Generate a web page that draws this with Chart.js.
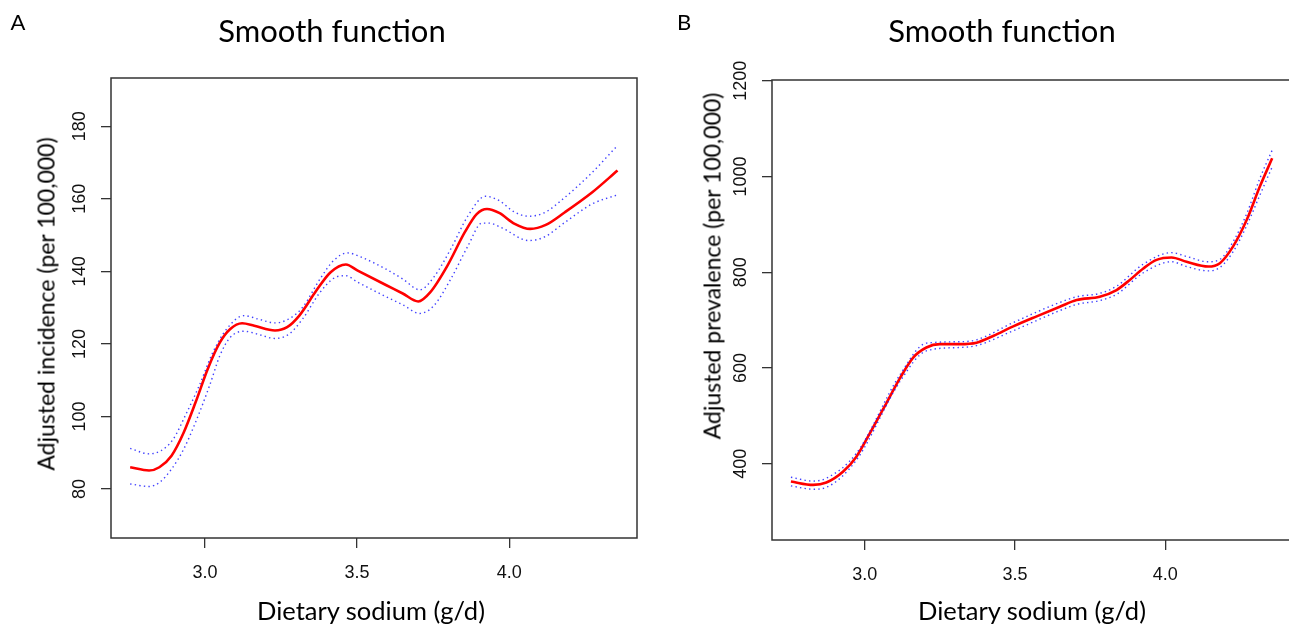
<!DOCTYPE html>
<html><head><meta charset="utf-8">
<script src="https://cdn.jsdelivr.net/npm/chart.js@4.4.1/dist/chart.umd.min.js"></script>
<style>
html,body{margin:0;padding:0;background:#fff;overflow:hidden;width:1289px;height:627px;position:relative;}
.wrap{position:absolute;top:0;height:627px;}
.t{position:absolute;white-space:nowrap;font-family:Lato,sans-serif;color:#000;transform:translate(-50%,-50%);line-height:1;}
.rot{transform:translate(-50%,-50%) rotate(-90deg);}
</style></head><body>
<div class="wrap" style="left:0;width:660px"><canvas id="cA"></canvas></div>
<div class="wrap" style="left:660px;width:650px"><canvas id="cB"></canvas></div>
<div class="t" style="left:18px;top:22px;font-size:22px">A</div>
<div class="t" style="left:684px;top:22px;font-size:22px">B</div>
<div class="t" style="left:332px;top:30px;font-size:31px">Smooth function</div>
<div class="t" style="left:1002px;top:30px;font-size:31px">Smooth function</div>
<div class="t" style="left:371px;top:611px;font-size:25.5px">Dietary sodium (g/d)</div>
<div class="t" style="left:1032px;top:611px;font-size:25.5px">Dietary sodium (g/d)</div>
<div class="t rot" style="left:46px;top:304px;font-size:23px">Adjusted incidence (per 100,000)</div>
<div class="t rot" style="left:712px;top:266px;font-size:23px">Adjusted prevalence (per 100,000)</div>
<script>
// ---- data ----
const xTicks = [3.0, 3.5, 4.0];
const yTicksA = [80, 100, 120, 140, 160, 180];
const yTicksB = [400, 600, 800, 1000, 1200];

// Panel A: incidence
const xA   = [2.754,2.816,2.850,2.890,2.930,2.969,3.009,3.049,3.083,3.122,3.162,3.230,3.270,3.310,3.366,3.412,3.463,3.502,3.593,3.650,3.701,3.740,3.797,3.854,3.893,3.927,3.967,4.018,4.069,4.120,4.183,4.273,4.356];
const fitA = [86.0,85.1,86.0,89.2,95.6,103.9,113.1,120.4,124.1,125.7,125.0,123.7,124.6,127.8,134.7,139.7,141.9,140.2,136.3,133.9,131.7,134.2,141.6,150.8,155.8,157.2,156.1,153.1,151.7,152.8,156.3,161.8,167.8];
const xAUp = [2.754,2.816,2.856,2.896,2.935,2.981,3.026,3.071,3.128,3.173,3.230,3.276,3.321,3.378,3.423,3.468,3.514,3.593,3.650,3.706,3.752,3.808,3.865,3.922,3.967,4.018,4.063,4.114,4.183,4.273,4.356];
const upA  = [91.2,89.7,90.6,93.8,100.2,108.5,117.7,124.1,127.8,126.9,125.8,126.9,130.1,137.9,143.0,145.1,143.9,140.7,137.9,134.9,138.4,146.2,155.4,160.7,159.5,156.3,155.2,156.1,160.4,167.3,174.7];
const xALo = [2.754,2.816,2.850,2.890,2.930,2.969,3.015,3.049,3.083,3.128,3.173,3.230,3.276,3.321,3.378,3.423,3.463,3.502,3.593,3.650,3.706,3.752,3.808,3.865,3.910,3.933,3.978,4.063,4.114,4.183,4.273,4.356];
const loA  = [81.4,80.7,81.8,85.5,91.0,98.4,108.5,116.8,121.8,123.5,122.7,121.5,122.7,126.9,134.2,138.1,138.8,137.0,133.1,130.8,128.4,130.5,137.9,147.1,153.3,153.3,151.9,148.5,149.4,153.5,158.6,161.1];

// Panel B: prevalence
const xB   = [2.754,2.828,2.872,2.928,2.972,3.017,3.072,3.117,3.161,3.205,3.250,3.316,3.372,3.427,3.494,3.572,3.649,3.705,3.782,3.838,3.882,3.927,3.971,4.021,4.071,4.143,4.182,4.226,4.271,4.315,4.356];
const fitB = [363,356,361,384,415,464,527,579,622,643,650,650,653,667,687,708,728,742,749,763,784,808,826,831,822,812,819,854,909,979,1038];
const xBci = [2.754,2.828,2.872,2.972,3.117,3.205,3.316,3.372,3.494,3.649,3.705,3.782,3.838,3.927,4.021,4.071,4.143,4.182,4.226,4.271,4.315,4.356];
const upB  = [372,364,370,422,586,652,655,659,695,737,749,756,771,817,841,833,822,827,864,922,996,1055];
const loB  = [354,347,351,408,572,636,643,647,678,720,733,741,754,799,822,812,803,810,843,897,961,1020];

const pts = (xs, ys) => xs.map((x, i) => ({x: x, y: ys[i]}));

const framePlugin = {
  id: 'frame',
  afterDraw(chart) {
    const {ctx, chartArea: a} = chart;
    const ys = chart.scales.y;
    ctx.save();
    ctx.strokeStyle = '#333';
    ctx.lineWidth = 1.5;
    ctx.strokeRect(a.left, a.top, a.right - a.left, a.bottom - a.top);
    ctx.fillStyle = '#111';
    ctx.font = '18px "Liberation Sans", Arial, sans-serif';
    ctx.textAlign = 'center';
    ctx.textBaseline = 'middle';
    ys.ticks.forEach(t => {
      const y = ys.getPixelForValue(t.value);
      ctx.save();
      ctx.translate(a.left - 31, y);
      ctx.rotate(-Math.PI / 2);
      ctx.fillText(String(t.value), 0, 0);
      ctx.restore();
    });
    ctx.restore();
  }
};

function makePanel(id, o) {
  const el = document.getElementById(id);
  const W = el.parentElement.clientWidth, H = 627;
  el.width = W; el.height = H;
  el.style.width = W + 'px'; el.style.height = H + 'px';
  return new Chart(el, {
    type: 'line',
    data: {
      datasets: [
        {data: pts(o.xUp, o.up), borderColor: 'rgba(30,30,255,0.85)', borderWidth: 1.4, borderDash: [1.4, 3.2], pointRadius: 0, cubicInterpolationMode: 'monotone', fill: false},
        {data: pts(o.xLo, o.lo), borderColor: 'rgba(30,30,255,0.85)', borderWidth: 1.4, borderDash: [1.4, 3.2], pointRadius: 0, cubicInterpolationMode: 'monotone', fill: false},
        {data: pts(o.x, o.fit), borderColor: '#ff0000', borderWidth: 2.6, pointRadius: 0, cubicInterpolationMode: 'monotone', fill: false}
      ]
    },
    options: {
      responsive: false, animation: false, events: [],
      layout: {padding: {top: o.top, right: W - o.right, bottom: 0, left: 0}},
      plugins: {legend: {display: false}, tooltip: {enabled: false}, title: {display: false}},
      scales: {
        x: {
          type: 'linear', min: 2.691, max: 4.42,
          afterBuildTicks: s => { s.ticks = xTicks.map(v => ({value: v})); },
          afterFit: s => { s.height = H - o.bottom; },
          grid: {drawOnChartArea: false, drawTicks: true, tickLength: 10, color: '#333', lineWidth: 1.3},
          border: {display: false},
          ticks: {padding: 14, color: '#111', font: {family: '"Liberation Sans", Arial, sans-serif', size: 18},
                  callback: v => v.toFixed(1), maxRotation: 0, autoSkip: false}
        },
        y: {
          type: 'linear', min: o.ymin, max: o.ymax,
          afterBuildTicks: s => { s.ticks = o.yTicks.map(v => ({value: v})); },
          afterFit: s => { s.width = o.left; },
          grid: {drawOnChartArea: false, drawTicks: true, tickLength: 10, color: '#333', lineWidth: 1.3},
          border: {display: false},
          ticks: {display: false}
        }
      }
    },
    plugins: [framePlugin]
  });
}

makePanel('cA', {x: xA, fit: fitA, xUp: xAUp, up: upA, xLo: xALo, lo: loA,
  yTicks: yTicksA, ymin: 66.5, ymax: 193.3, left: 111, right: 637, top: 78, bottom: 538});
makePanel('cB', {x: xB, fit: fitB, xUp: xBci, up: upB, xLo: xBci, lo: loB,
  yTicks: yTicksB, ymin: 241, ymax: 1201.5, left: 112, right: 631.4, top: 80, bottom: 540});
</script>
</body></html>
